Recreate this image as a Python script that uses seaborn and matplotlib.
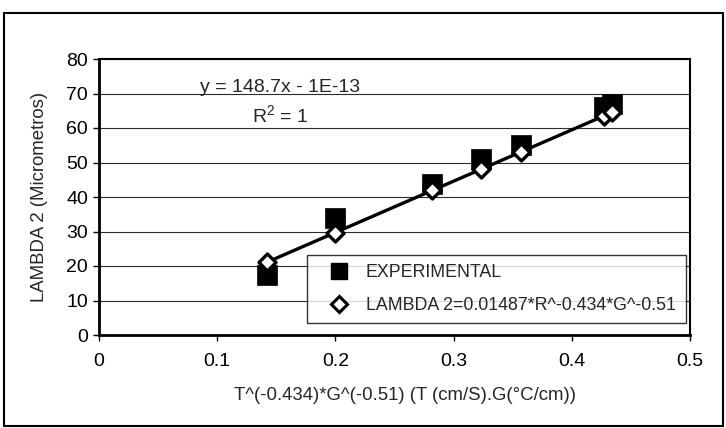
import matplotlib
matplotlib.use("Agg")
import matplotlib.pyplot as plt
from matplotlib.lines import Line2D
import seaborn as sns
import pandas as pd

# Measured and model values of the secondary arm spacing
x_values = [0.142, 0.200, 0.282, 0.323, 0.357, 0.427, 0.434]
experimental = [17.3, 33.8, 43.8, 51.0, 55.2, 66.0, 67.0]
model = [21.1, 29.7, 41.9, 48.0, 53.1, 63.5, 64.5]

x_ticks = [0, 0.1, 0.2, 0.3, 0.4, 0.5]
x_tick_labels = ["0", "0.1", "0.2", "0.3", "0.4", "0.5"]
y_ticks = [0, 10, 20, 30, 40, 50, 60, 70, 80]

x_label = "T^(-0.434)*G^(-0.51) (T (cm/S).G(°C/cm))"
y_label = "LAMBDA 2 (Micrometros)"
series_exp = "EXPERIMENTAL"
series_model = "LAMBDA 2=0.01487*R^-0.434*G^-0.51"
equation_text = "y = 148.7x - 1E-13"
r2_text = "R$^2$ = 1"

sns.set_style("ticks")
plt.rcParams["font.family"] = ["Liberation Sans", "DejaVu Sans"]
plt.rcParams["mathtext.fontset"] = "custom"
plt.rcParams["mathtext.rm"] = "Liberation Sans"

df = pd.DataFrame({"x": x_values, "exp": experimental, "model": model})

W, H = 726, 428
fig = plt.figure(figsize=(W / 100, H / 100), dpi=100)
ax = fig.add_axes([99 / W, 93 / H, 591 / W, 276 / H])

# Outer chart frame
fig.add_artist(plt.Rectangle((4 / W, 2 / H), 719 / W, 413 / H,
                             transform=fig.transFigure, fill=False,
                             edgecolor="black", lw=1.5))

ax.set_axisbelow(True)
ax.yaxis.grid(True, color="#2b2b2b", lw=0.8)
ax.xaxis.grid(False)

# Linear trendline of the model series
sns.regplot(data=df, x="x", y="model", scatter=False, ci=None, truncate=True,
            line_kws=dict(color="black", lw=2.4, zorder=3), ax=ax)

sns.scatterplot(data=df, x="x", y="exp", marker="s", s=200, color="black",
                edgecolor="black", linewidth=0.5, ax=ax, zorder=4, legend=False)
sns.scatterplot(data=df, x="x", y="model", marker="D", s=75, color="white",
                edgecolor="black", linewidth=2.4, ax=ax, zorder=5, legend=False)

ax.set_xlim(0, 0.5)
ax.set_ylim(0, 80)
ax.set_xticks(x_ticks)
ax.set_xticklabels(x_tick_labels)
ax.set_yticks(y_ticks)
ax.tick_params(direction="out", length=4, width=1, labelsize=14,
               colors="black")
ax.tick_params(axis="x", pad=9)
ax.tick_params(axis="y", pad=4)

for side in ["top", "right"]:
    ax.spines[side].set_visible(True)
    ax.spines[side].set_linewidth(1.5)
    ax.spines[side].set_color("black")
for side in ["left", "bottom"]:
    ax.spines[side].set_linewidth(2.0)
    ax.spines[side].set_color("black")

ax.set_xlabel(x_label, fontsize=13.4)
ax.set_ylabel(y_label, fontsize=13.4)
ax.xaxis.set_label_coords(0.518, -0.19)
ax.yaxis.set_label_coords(-0.086, 0.5)

ax.text(0.153, 71.6, equation_text, ha="center", va="center", fontsize=14)
ax.text(0.153, 63.6, r2_text, ha="center", va="center", fontsize=14)

handles = [
    Line2D([], [], ls="none", marker="s", markersize=11, color="black",
           markeredgecolor="black"),
    Line2D([], [], ls="none", marker="D", markersize=8, markerfacecolor="white",
           markeredgecolor="black", markeredgewidth=2.2),
]
leg = ax.legend(handles, [series_exp, series_model], loc="lower left",
                bbox_to_anchor=(0.352, 0.043, 0.641, 0.24), mode="expand",
                frameon=True, fancybox=False, edgecolor="black",
                fontsize=12.8, borderpad=0.5, labelspacing=0.9,
                handletextpad=0.2, borderaxespad=0, handlelength=2.6)
leg.get_frame().set_linewidth(1.0)

fig.savefig("out.png", dpi=100)
